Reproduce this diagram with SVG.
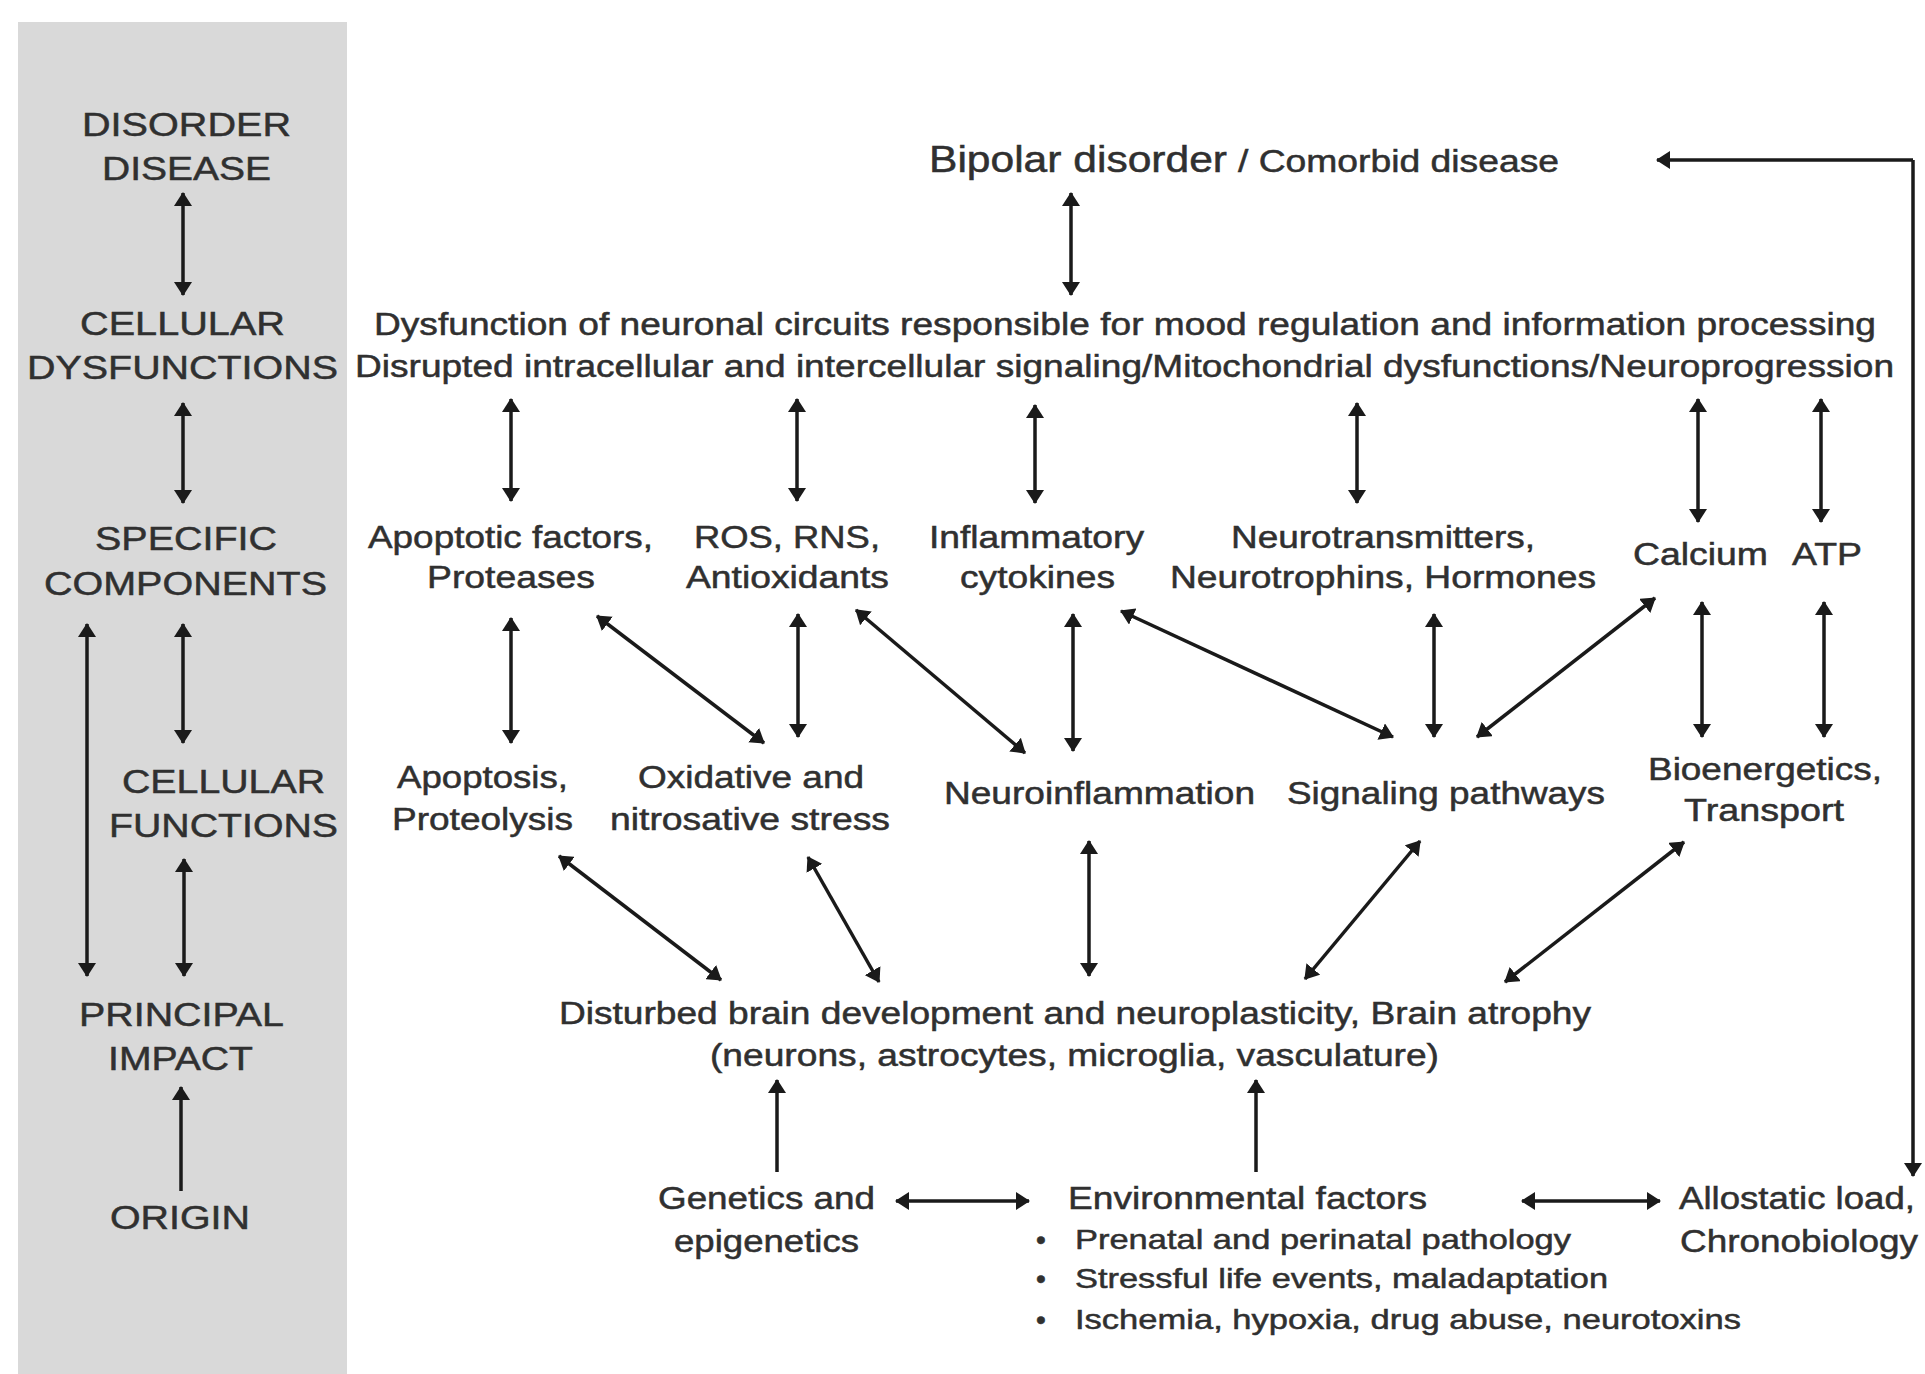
<svg xmlns="http://www.w3.org/2000/svg" width="1925" height="1374" viewBox="0 0 1925 1374">
<defs>
<marker id="ah" viewBox="0 0 14 18" refX="13" refY="9" markerWidth="14" markerHeight="18" markerUnits="userSpaceOnUse" orient="auto-start-reverse">
<path d="M0,0 L14,9 L0,18 z" fill="#1a1a1a"/>
</marker>
<style>
text{font-family:"Liberation Sans",Arial,sans-serif;fill:#303030;stroke:#303030;stroke-width:0.5;}
.lab{font-size:34px;}
.t{font-size:31px;}
.s{font-size:28px;}
.big{font-size:36px;}
.c line,.c path{stroke:#1a1a1a;stroke-width:3.5;fill:none;}
.d{marker-start:url(#ah);marker-end:url(#ah);}
.e{marker-end:url(#ah);}
</style>
</defs>
<rect x="0" y="0" width="1925" height="1374" fill="#ffffff"/>
<g id="panel"><rect x="18" y="22" width="329" height="1352" fill="#d9d9d9"/></g>

<g id="lbl-disorder"><text class="lab" x="82" y="136" textLength="209" lengthAdjust="spacingAndGlyphs">DISORDER</text><text class="lab" x="102" y="180" textLength="169" lengthAdjust="spacingAndGlyphs">DISEASE</text></g>
<g id="lbl-cellular-dys"><text class="lab" x="80" y="335" textLength="205" lengthAdjust="spacingAndGlyphs">CELLULAR</text><text class="lab" x="27" y="379" textLength="311" lengthAdjust="spacingAndGlyphs">DYSFUNCTIONS</text></g>
<g id="lbl-specific"><text class="lab" x="95" y="550" textLength="182" lengthAdjust="spacingAndGlyphs">SPECIFIC</text><text class="lab" x="44" y="595" textLength="283" lengthAdjust="spacingAndGlyphs">COMPONENTS</text></g>
<g id="lbl-cellular-fun"><text class="lab" x="122" y="793" textLength="203" lengthAdjust="spacingAndGlyphs">CELLULAR</text><text class="lab" x="109" y="837" textLength="229" lengthAdjust="spacingAndGlyphs">FUNCTIONS</text></g>
<g id="lbl-principal"><text class="lab" x="79" y="1026" textLength="205" lengthAdjust="spacingAndGlyphs">PRINCIPAL</text><text class="lab" x="108" y="1070" textLength="145" lengthAdjust="spacingAndGlyphs">IMPACT</text></g>
<g id="lbl-origin"><text class="lab" x="110" y="1229" textLength="140" lengthAdjust="spacingAndGlyphs">ORIGIN</text></g>

<g id="n-bipolar"><text class="big" x="929" y="172" textLength="298" lengthAdjust="spacingAndGlyphs">Bipolar disorder</text><text class="t" x="1238" y="172" textLength="321" lengthAdjust="spacingAndGlyphs">/ Comorbid disease</text></g>
<g id="n-dysfunction"><text class="t" x="374" y="335" textLength="1502" lengthAdjust="spacingAndGlyphs">Dysfunction of neuronal circuits responsible for mood regulation and information processing</text><text class="t" x="355" y="377" textLength="1539" lengthAdjust="spacingAndGlyphs">Disrupted intracellular and intercellular signaling/Mitochondrial dysfunctions/Neuroprogression</text></g>

<g id="n-apoptotic"><text class="t" x="368" y="548" textLength="285" lengthAdjust="spacingAndGlyphs">Apoptotic factors,</text><text class="t" x="427" y="588" textLength="168" lengthAdjust="spacingAndGlyphs">Proteases</text></g>
<g id="n-ros"><text class="t" x="694" y="548" textLength="186" lengthAdjust="spacingAndGlyphs">ROS, RNS,</text><text class="t" x="686" y="588" textLength="203" lengthAdjust="spacingAndGlyphs">Antioxidants</text></g>
<g id="n-inflam"><text class="t" x="929" y="548" textLength="215" lengthAdjust="spacingAndGlyphs">Inflammatory</text><text class="t" x="960" y="588" textLength="155" lengthAdjust="spacingAndGlyphs">cytokines</text></g>
<g id="n-neurotrans"><text class="t" x="1231" y="548" textLength="304" lengthAdjust="spacingAndGlyphs">Neurotransmitters,</text><text class="t" x="1170" y="588" textLength="426" lengthAdjust="spacingAndGlyphs">Neurotrophins, Hormones</text></g>
<g id="n-calcium"><text class="t" x="1633" y="565" textLength="135" lengthAdjust="spacingAndGlyphs">Calcium</text></g>
<g id="n-atp"><text class="t" x="1792" y="565" textLength="70" lengthAdjust="spacingAndGlyphs">ATP</text></g>

<g id="n-apoptosis"><text class="t" x="397" y="788" textLength="171" lengthAdjust="spacingAndGlyphs">Apoptosis,</text><text class="t" x="392" y="830" textLength="181" lengthAdjust="spacingAndGlyphs">Proteolysis</text></g>
<g id="n-oxidative"><text class="t" x="638" y="788" textLength="226" lengthAdjust="spacingAndGlyphs">Oxidative and</text><text class="t" x="610" y="830" textLength="280" lengthAdjust="spacingAndGlyphs">nitrosative stress</text></g>
<g id="n-neuroinfl"><text class="t" x="944" y="804" textLength="311" lengthAdjust="spacingAndGlyphs">Neuroinflammation</text></g>
<g id="n-signaling"><text class="t" x="1287" y="804" textLength="318" lengthAdjust="spacingAndGlyphs">Signaling pathways</text></g>
<g id="n-bioenerg"><text class="t" x="1648" y="780" textLength="234" lengthAdjust="spacingAndGlyphs">Bioenergetics,</text><text class="t" x="1684" y="821" textLength="160" lengthAdjust="spacingAndGlyphs">Transport</text></g>

<g id="n-brain"><text class="t" x="559" y="1024" textLength="1032" lengthAdjust="spacingAndGlyphs">Disturbed brain development and neuroplasticity, Brain atrophy</text><text class="t" x="710" y="1066" textLength="729" lengthAdjust="spacingAndGlyphs">(neurons, astrocytes, microglia, vasculature)</text></g>

<g id="n-genetics"><text class="t" x="658" y="1209" textLength="217" lengthAdjust="spacingAndGlyphs">Genetics and</text><text class="t" x="674" y="1252" textLength="185" lengthAdjust="spacingAndGlyphs">epigenetics</text></g>
<g id="n-environ"><text class="t" x="1068" y="1209" textLength="359" lengthAdjust="spacingAndGlyphs">Environmental factors</text>
<text class="s" x="1036" y="1249">•</text><text class="s" x="1075" y="1249" textLength="496" lengthAdjust="spacingAndGlyphs">Prenatal and perinatal pathology</text>
<text class="s" x="1036" y="1288">•</text><text class="s" x="1075" y="1288" textLength="533" lengthAdjust="spacingAndGlyphs">Stressful life events, maladaptation</text>
<text class="s" x="1036" y="1329">•</text><text class="s" x="1075" y="1329" textLength="666" lengthAdjust="spacingAndGlyphs">Ischemia, hypoxia, drug abuse, neurotoxins</text></g>
<g id="n-allostatic"><text class="t" x="1679" y="1209" textLength="236" lengthAdjust="spacingAndGlyphs">Allostatic load,</text><text class="t" x="1680" y="1252" textLength="238" lengthAdjust="spacingAndGlyphs">Chronobiology</text></g>

<g id="connectors" class="c">
<line class="d" x1="183" y1="193" x2="183" y2="295"/>
<line class="d" x1="183" y1="403" x2="183" y2="503"/>
<line class="d" x1="87" y1="624" x2="87" y2="976"/>
<line class="d" x1="183" y1="624" x2="183" y2="743"/>
<line class="d" x1="184" y1="859" x2="184" y2="976"/>
<line class="e" x1="181" y1="1191" x2="181" y2="1087"/>

<line class="d" x1="1071" y1="193" x2="1071" y2="295"/>
<path class="e" d="M1913,160 L1657,160"/>
<path class="e" d="M1913,160 L1913,1176"/>

<line class="d" x1="511" y1="399" x2="511" y2="501"/>
<line class="d" x1="797" y1="399" x2="797" y2="501"/>
<line class="d" x1="1035" y1="405" x2="1035" y2="503"/>
<line class="d" x1="1357" y1="403" x2="1357" y2="503"/>
<line class="d" x1="1698" y1="399" x2="1698" y2="522"/>
<line class="d" x1="1821" y1="399" x2="1821" y2="522"/>

<line class="d" x1="511" y1="618" x2="511" y2="743"/>
<line class="d" x1="597" y1="616" x2="764" y2="743"/>
<line class="d" x1="798" y1="614" x2="798" y2="737"/>
<line class="d" x1="856" y1="610" x2="1025" y2="753"/>
<line class="d" x1="1073" y1="614" x2="1073" y2="751"/>
<line class="d" x1="1121" y1="611" x2="1393" y2="737"/>
<line class="d" x1="1434" y1="614" x2="1434" y2="737"/>
<line class="d" x1="1655" y1="598" x2="1477" y2="737"/>
<line class="d" x1="1702" y1="602" x2="1702" y2="737"/>
<line class="d" x1="1824" y1="602" x2="1824" y2="737"/>

<line class="d" x1="559" y1="856" x2="721" y2="980"/>
<line class="d" x1="808" y1="857" x2="879" y2="982"/>
<line class="d" x1="1089" y1="841" x2="1089" y2="976"/>
<line class="d" x1="1420" y1="841" x2="1305" y2="979"/>
<line class="d" x1="1684" y1="842" x2="1505" y2="982"/>

<line class="e" x1="777" y1="1172" x2="777" y2="1080"/>
<line class="e" x1="1256" y1="1172" x2="1256" y2="1080"/>
<line class="d" x1="896" y1="1201" x2="1029" y2="1201"/>
<line class="d" x1="1522" y1="1201" x2="1660" y2="1201"/>
</g>
</svg>
